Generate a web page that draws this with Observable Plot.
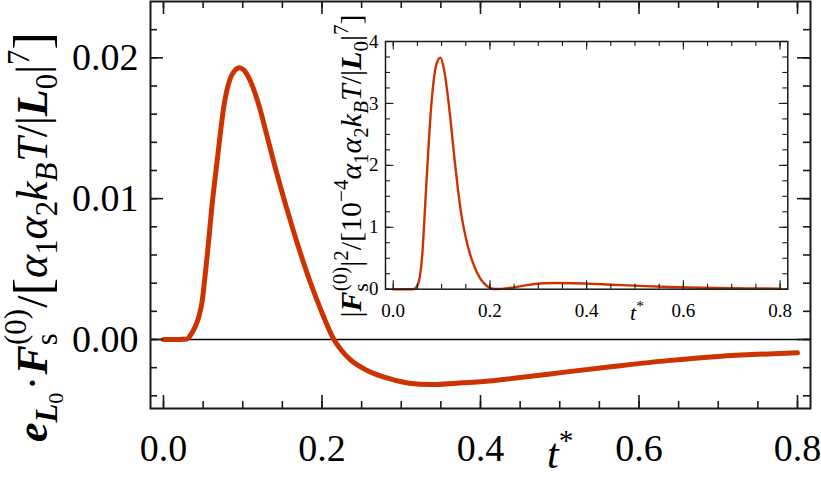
<!DOCTYPE html>
<html><head><meta charset="utf-8">
<script src="https://cdn.jsdelivr.net/npm/d3@7"></script>
<script src="https://cdn.jsdelivr.net/npm/@observablehq/plot@0.6"></script>
<style>
body{margin:0;background:#fff;}
#wrap{position:relative;width:821px;height:479px;overflow:hidden;background:#fff;}
#wrap svg{position:absolute;}
</style></head><body><div id="wrap"></div>
<script>
// ---- data ----
const tMain = [0, 0.02, 0.03, 0.034, 0.04, 0.045, 0.049, 0.053, 0.057, 0.061, 0.0656, 0.07, 0.076, 0.08, 0.084, 0.09, 0.096, 0.102, 0.11, 0.12, 0.13, 0.141, 0.155, 0.169, 0.185, 0.2, 0.215, 0.225, 0.236, 0.257, 0.286, 0.31, 0.337, 0.37, 0.4, 0.45, 0.509, 0.57, 0.636, 0.7, 0.75, 0.8];
const vMain = [0, 0, 0.00003, 0.0003, 0.0009, 0.0017, 0.0028, 0.0048, 0.0070, 0.0094, 0.0117, 0.0138, 0.0165, 0.0177, 0.0185, 0.0191, 0.0193, 0.0191, 0.0183, 0.0167, 0.0146, 0.0122, 0.0094, 0.0068, 0.0041, 0.0019, 0.0, -0.0008, -0.00145, -0.0022, -0.0028, -0.0031, -0.0032, -0.0031, -0.0030, -0.0027, -0.0023, -0.0019, -0.0015, -0.0012, -0.00105, -0.00095];
const tInset = [0, 0.04, 0.045, 0.05, 0.055, 0.06, 0.0635, 0.0707, 0.079, 0.085, 0.09, 0.0975, 0.105, 0.1147, 0.12, 0.127, 0.134, 0.141, 0.151, 0.165, 0.18, 0.195, 0.21, 0.225, 0.25, 0.28, 0.31, 0.337, 0.37, 0.4, 0.45, 0.509, 0.57, 0.636, 0.7, 0.75, 0.8];
const vInset = [0, 0, 0.01, 0.06, 0.2, 0.55, 1.0, 2.0, 3.0, 3.45, 3.65, 3.74, 3.55, 3.0, 2.62, 2.08, 1.6, 1.2, 0.8, 0.42, 0.17, 0.045, 0.004, 0.006, 0.03, 0.07, 0.095, 0.10, 0.097, 0.09, 0.073, 0.053, 0.036, 0.023, 0.015, 0.012, 0.009];

const xTicks = [0, 0.2, 0.4, 0.6, 0.8];
const xTickLabels = ["0.0", "0.2", "0.4", "0.6", "0.8"];
const yTicksMain = [0, 0.01, 0.02];
const yTickLabelsMain = ["0.00", "0.01", "0.02"];
const yTicksInset = [0, 1, 2, 3, 4];
const yTickLabelsInset = ["0", "1", "2", "3", "4"];

// ---- styling ----
const FONT = "Liberation Serif";
const red = "#cc3300", ink = "#1a1a1a";
const W = 821, H = 479;

function ticksFrame(xs, ys, fw, fh, len, sw) {
  const o = {stroke: ink, strokeWidth: sw};
  return [
    Plot.ruleX(xs, {...o, insetTop: fh - len}),
    Plot.ruleX(xs, {...o, insetBottom: fh - len}),
    Plot.ruleY(ys, {...o, insetRight: fw - len}),
    Plot.ruleY(ys, {...o, insetLeft: fw - len})
  ];
}

// ---- main chart ----
const mL = 150, mR = 11, mT = 1, mB = 71;
const fw = W - mL - mR, fh = H - mT - mB;
const mainData = tMain.map((t, i) => ({t, v: vMain[i]}));
const main = Plot.plot({
  width: W, height: H, marginLeft: mL, marginRight: mR, marginTop: mT, marginBottom: mB,
  style: {fontFamily: FONT, background: "transparent", overflow: "visible", color: "#000"},
  x: {domain: [-0.0164, 0.8164]},
  y: {domain: [-0.0049, 0.0240]},
  marks: [
    Plot.ruleY([0], {stroke: "#000", strokeWidth: 1.3}),
    Plot.line(mainData, {x: "t", y: "v", stroke: red, strokeWidth: 5, curve: "monotone-x"}),
    ...ticksFrame(d3.range(0, 0.8001, 0.05), d3.range(-0.004, 0.0225, 0.002), fw, fh, 7, 1.6),
    ...ticksFrame(xTicks, yTicksMain, fw, fh, 13, 1.6),
    Plot.frame({stroke: ink, strokeWidth: 2}),
    Plot.axisX(xTicks, {tickSize: 0, tickPadding: 26, fontSize: 38, label: null,
      tickFormat: d => xTickLabels[xTicks.indexOf(d)]}),
    Plot.axisY(yTicksMain, {tickSize: 0, tickPadding: 12, fontSize: 38, label: null,
      tickFormat: d => yTickLabelsMain[yTicksMain.indexOf(d)]})
  ]
});
main.style.left = "0px"; main.style.top = "0px";

// ---- inset chart ----
const iLeft = 330, iTop = 0, iW = 480, iH = 335;
const imL = 55, imR = 22.7, imT = 41, imB = 46.3;
const ifw = iW - imL - imR, ifh = iH - imT - imB;
const insetData = tInset.map((t, i) => ({t, v: vInset[i]}));
const inset = Plot.plot({
  width: iW, height: iH, marginLeft: imL, marginRight: imR, marginTop: imT, marginBottom: imB,
  style: {fontFamily: FONT, background: "transparent", overflow: "visible", color: "#000"},
  x: {domain: [-0.016, 0.816]},
  y: {domain: [0, 4]},
  marks: [
    Plot.line(insetData, {x: "t", y: "v", stroke: red, strokeWidth: 2.4, curve: "monotone-x"}),
    ...ticksFrame(d3.range(0, 0.8001, 0.05), d3.range(0, 4.001, 0.25), ifw, ifh, 5, 1.1),
    ...ticksFrame(xTicks, yTicksInset, ifw, ifh, 8.5, 1.1),
    Plot.frame({stroke: ink, strokeWidth: 1.5}),
    Plot.axisX(xTicks, {tickSize: 0, tickPadding: 14, fontSize: 19, label: null,
      tickFormat: d => xTickLabels[xTicks.indexOf(d)]}),
    Plot.axisY(yTicksInset, {tickSize: 0, tickPadding: 7, fontSize: 19, label: null,
      tickFormat: d => yTickLabelsInset[yTicksInset.indexOf(d)]})
  ]
});
inset.style.left = iLeft + "px"; inset.style.top = iTop + "px";

const wrap = document.getElementById("wrap");
wrap.append(main, inset);

// ---- math-style labels ----
function mathText(svg, x, y, rot, fs, anchor, parts) {
  const t = d3.select(svg).append("text")
    .attr("transform", `translate(${x},${y}) rotate(${rot})`)
    .attr("text-anchor", anchor).attr("font-family", FONT)
    .attr("font-size", fs).attr("fill", "#000");
  let cur = 0;
  for (const p of parts) {
    const sz = p.z ?? 1, sh = (p.y ?? 0) * fs;
    const ts = t.append("tspan").text(p.t).attr("font-size", sz * fs).attr("dy", sh - cur);
    if (p.dx) ts.attr("dx", p.dx * fs);
    if (p.f.includes("i")) ts.attr("font-style", "italic");
    if (p.f.includes("b")) ts.attr("font-weight", "bold");
    cur = sh;
  }
}
const SUB = {z: 0.7, y: 0.22}, SUP = {z: 0.7, y: -0.42}, SUBSUB = {z: 0.5, y: 0.36};
const BIG = {z: 1.2, y: 0.07};

mathText(main, 47, 442, -90, 44, "start", [
  {t: "e", f: "bi"},
  {t: "L", f: "bi", ...SUB},
  {t: "0", f: "r", ...SUBSUB},
  {t: "\u00B7", f: "r", dx: 0.05},
  {t: "F", f: "bi", dx: 0.03},
  {t: "s", f: "r", ...SUB},
  {t: "(0)", f: "r", z: 0.7, y: -0.48, dx: -0.27},
  {t: "/", f: "r", dx: 0.03},
  {t: "[", f: "r", ...BIG},
  {t: "\u03B1", f: "i"},
  {t: "1", f: "r", ...SUB},
  {t: "\u03B1", f: "i"},
  {t: "2", f: "r", ...SUB},
  {t: "k", f: "i"},
  {t: "B", f: "i", ...SUB},
  {t: "T", f: "i", dx: 0.02},
  {t: "/", f: "r"},
  {t: "|", f: "r"},
  {t: "L", f: "bi"},
  {t: "0", f: "r", ...SUB},
  {t: "|", f: "r"},
  {t: "7", f: "r", ...SUP},
  {t: "]", f: "r", ...BIG}
]);

mathText(main, 547, 468, 0, 42, "start", [
  {t: "t", f: "i"},
  {t: "*", f: "r", z: 0.7, y: -0.42}
]);

mathText(inset, 31, 166, -90, 30, "middle", [
  {t: "|", f: "r"},
  {t: "F", f: "bi"},
  {t: "s", f: "r", ...SUB},
  {t: "(0)", f: "r", z: 0.7, y: -0.48, dx: -0.27},
  {t: "|", f: "r"},
  {t: "2", f: "r", ...SUP},
  {t: "/", f: "r"},
  {t: "[", f: "r"},
  {t: "10", f: "r"},
  {t: "\u22124", f: "r", ...SUP},
  {t: "\u03B1", f: "i"},
  {t: "1", f: "r", ...SUB},
  {t: "\u03B1", f: "i"},
  {t: "2", f: "r", ...SUB},
  {t: "k", f: "i"},
  {t: "B", f: "i", ...SUB},
  {t: "T", f: "i"},
  {t: "/", f: "r"},
  {t: "|", f: "r"},
  {t: "L", f: "bi"},
  {t: "0", f: "r", ...SUB},
  {t: "|", f: "r"},
  {t: "7", f: "r", ...SUP},
  {t: "]", f: "r"}
]);

mathText(inset, 300, 320, 0, 22, "start", [
  {t: "t", f: "i"},
  {t: "*", f: "r", z: 0.7, y: -0.42}
]);
</script></body></html>
